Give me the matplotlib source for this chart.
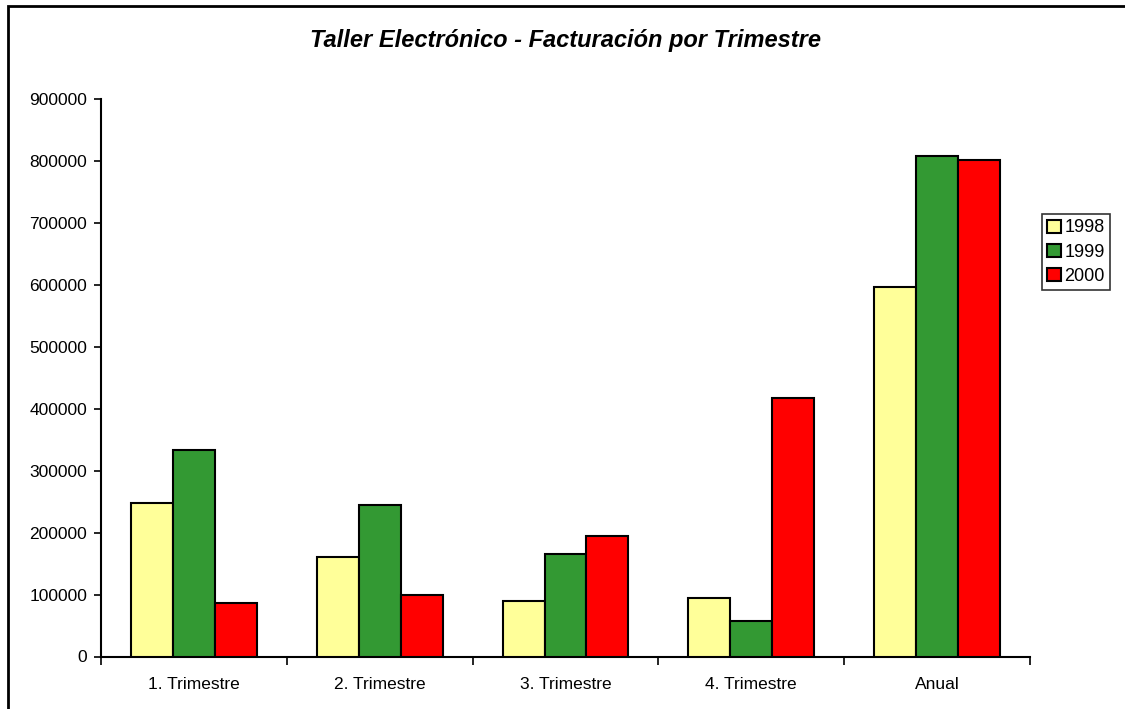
import matplotlib.pyplot as plt
from matplotlib.patches import Rectangle

# data
categories = ["1. Trimestre", "2. Trimestre", "3. Trimestre", "4. Trimestre", "Anual"]
years = ["1998", "1999", "2000"]
v1998 = [247000, 160000, 89000, 95000, 597000]
v1999 = [333000, 244000, 166000, 58000, 808000]
v2000 = [87000, 100000, 194000, 417000, 802000]
colors = ["#FFFF99", "#339933", "#FF0000"]

plt.rcParams['font.family'] = ['Liberation Sans', 'DejaVu Sans']

fig = plt.figure(figsize=(11.25, 7.09), dpi=100)
ax = fig.add_axes([101 / 1125, 1 - 656.5 / 709, 929 / 1125, 557.5 / 709])

width = 0.226
x = list(range(len(categories)))
series = [v1998, v1999, v2000]
for i, vals in enumerate(series):
    pos = [xi + (i - 1) * width for xi in x]
    ax.bar(pos, vals, width=width, color=colors[i], edgecolor="black",
           linewidth=1.5, label=years[i], zorder=3)

ax.set_xlim(-0.5, len(categories) - 0.5)
ax.set_ylim(0, 900000)
ax.set_yticks(range(0, 900001, 100000))
ax.set_yticklabels([str(v) for v in range(0, 900001, 100000)], fontsize=12.5)

# boundary ticks between groups, labels in the middle
ax.set_xticks([b - 0.5 for b in range(len(categories) + 1)])
ax.set_xticklabels([])
ax.set_xticks(x, minor=True)
ax.set_xticklabels(categories, minor=True, fontsize=12.5)
ax.tick_params(axis='x', which='major', length=6, width=1.2, direction='out')
ax.tick_params(axis='x', which='minor', length=0, pad=15)
ax.tick_params(axis='y', length=5, width=1.2, direction='out', pad=5)

ax.spines['top'].set_visible(False)
ax.spines['right'].set_visible(False)
ax.spines['left'].set_linewidth(1.5)
ax.spines['bottom'].set_linewidth(1.5)

fig.text(566 / 1125, 1 - 40 / 709, "Taller Electrónico - Facturación por Trimestre",
         ha='center', va='center', fontsize=17, fontweight='bold', fontstyle='italic')

leg = fig.legend(loc='upper left', bbox_to_anchor=(1042 / 1125, 1 - 214 / 709),
                 fontsize=13, frameon=True, fancybox=False, borderpad=0.3,
                 handlelength=0.75, handleheight=0.75, handletextpad=0.2,
                 labelspacing=0.4, borderaxespad=0)
leg.get_frame().set_edgecolor('black')
leg.get_frame().set_linewidth(1.2)

# outer border of the chart area
fig.patches.append(Rectangle((8 / 1125, -0.1), 1.2, 1.1 - 6 / 709,
                             transform=fig.transFigure, fill=False,
                             edgecolor='black', linewidth=2, zorder=10))

fig.savefig("out.png", dpi=100)
